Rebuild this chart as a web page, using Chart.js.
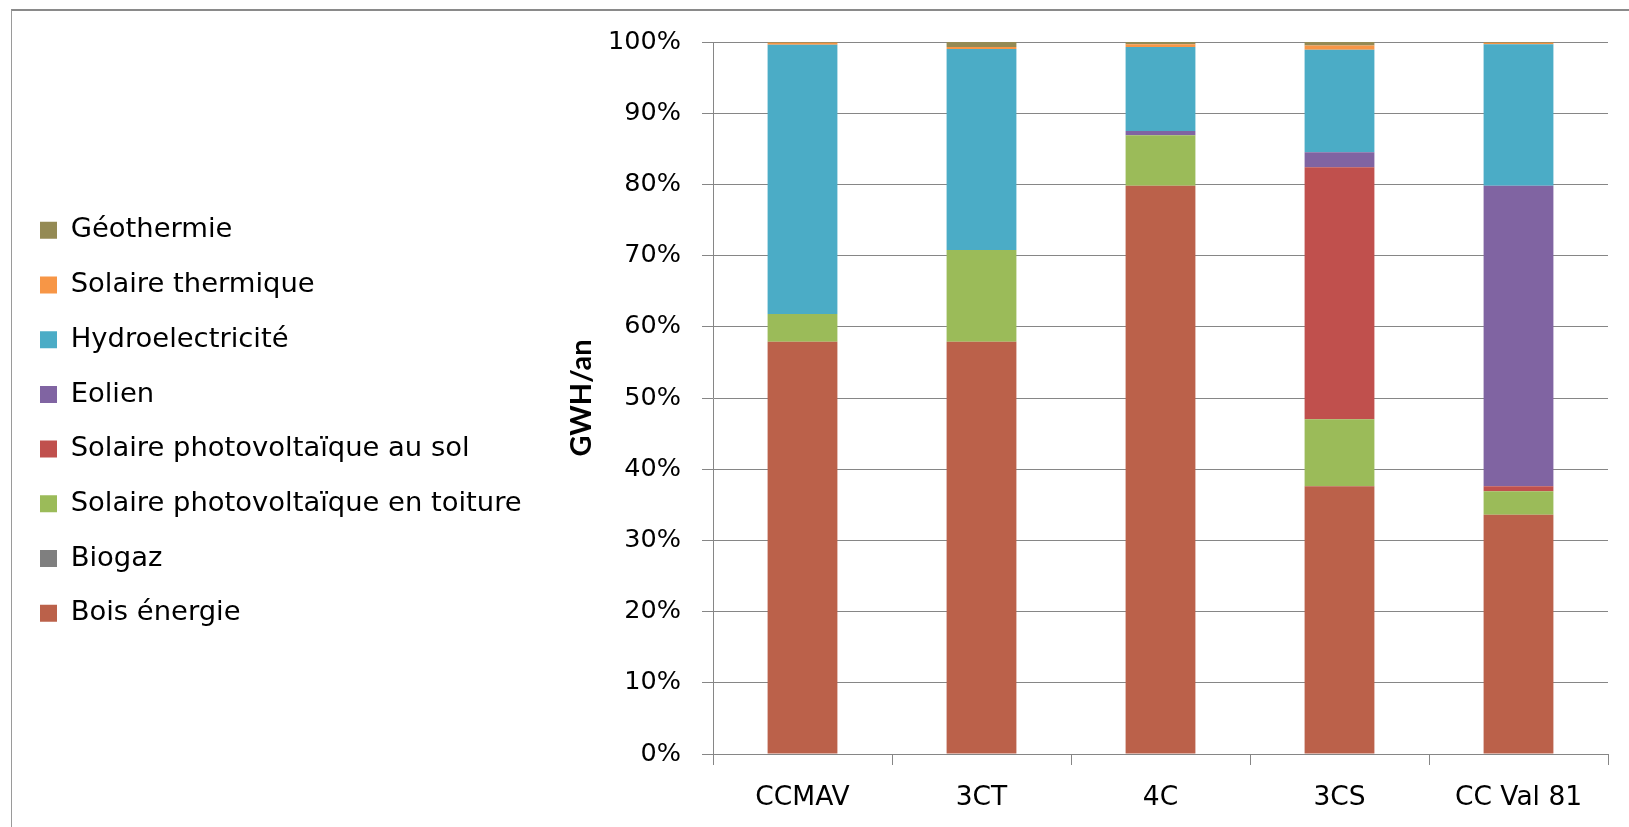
<!DOCTYPE html>
<html>
<head>
<meta charset="utf-8">
<script src="https://cdn.jsdelivr.net/npm/chart.js@4.4.1/dist/chart.umd.min.js"></script>
<style>
  html, body { margin: 0; padding: 0; background: #fff; }
  #wrap { position: relative; width: 1629px; height: 827px; }
  #frame {
    position: absolute; left: 11px; top: 9px; right: -5px; bottom: -5px;
    border-top: 2px solid #8a8a8a; border-left: 1px solid #9a9a9a;
    pointer-events: none;
  }
</style>
</head>
<body>
<div id="wrap">
  <canvas id="chart" width="1629" height="827"></canvas>
  <div id="frame"></div>
</div>
<script>
// Data (share of each source, %)
const categories = ["CCMAV", "3CT", "4C", "3CS", "CC Val 81"];
const boisEnergie = [57.9, 57.9, 79.8, 37.6, 33.6];
const biogaz = [0, 0, 0, 0, 0];
const pvToiture = [3.9, 12.9, 7.1, 9.4, 3.3];
const pvSol = [0, 0, 0, 35.4, 0.7];
const eolien = [0, 0, 0.6, 2.1, 42.2];
const hydro = [37.8, 28.2, 11.8, 14.4, 19.9];
const solaireThermique = [0.3, 0.3, 0.4, 0.6, 0.2];
const geothermie = [0.1, 0.7, 0.3, 0.5, 0.2];
const yTicks = [0, 10, 20, 30, 40, 50, 60, 70, 80, 90, 100];

const gridColor = "#868686";
const textFont = "'DejaVu Sans', Verdana, sans-serif";

// series, bottom to top
const series = [
  { label: "Bois énergie", data: boisEnergie, color: "#BB614A" },
  { label: "Biogaz", data: biogaz, color: "#7F7F7F" },
  { label: "Solaire photovoltaïque en toiture", data: pvToiture, color: "#9BBB59" },
  { label: "Solaire photovoltaïque au sol", data: pvSol, color: "#C0504D" },
  { label: "Eolien", data: eolien, color: "#8064A2" },
  { label: "Hydroelectricité", data: hydro, color: "#4BACC6" },
  { label: "Solaire thermique", data: solaireThermique, color: "#F79646" },
  { label: "Géothermie", data: geothermie, color: "#948A54" },
];

// fixed width for the legend column on the left
const legendWidth = {
  id: "legendWidth",
  beforeInit(chart) {
    const fit = chart.legend.fit;
    chart.legend.fit = function () {
      fit.bind(chart.legend)();
      this.width = 551.3;
    };
  },
};

const ctx = document.getElementById("chart").getContext("2d");
new Chart(ctx, {
  type: "bar",
  data: {
    labels: categories,
    datasets: series.map((s) => ({
      label: s.label,
      data: s.data,
      backgroundColor: s.color,
      borderWidth: 0,
      categoryPercentage: 1,
      barPercentage: 0.39,
    })),
  },
  options: {
    responsive: false,
    animation: false,
    layout: { padding: { left: 12.7, right: 21, top: 42, bottom: 13 } },
    plugins: {
      tooltip: { enabled: false },
      legend: {
        position: "left",
        align: "start",
        reverse: true,
        // empty title used as top spacer so the items sit where the original has them
        title: {
          display: true,
          text: "",
          padding: { top: 135.3, bottom: 0 },
          font: { size: 10 },
        },
        labels: {
          boxWidth: 17,
          boxHeight: 17,
          padding: 27.3,
          color: "#000",
          font: { family: textFont, size: 27.4 },
        },
      },
    },
    scales: {
      x: {
        stacked: true,
        afterFit(axis) {
          axis.height = 60;
        },
        grid: {
          offset: true,
          drawOnChartArea: false,
          color: gridColor,
          tickLength: 11,
        },
        border: { color: gridColor },
        ticks: {
          color: "#000",
          padding: 17,
          maxRotation: 0,
          font: { family: textFont, size: 26.5 },
        },
      },
      y: {
        stacked: true,
        min: 0,
        max: 100,
        afterBuildTicks(axis) {
          axis.ticks = yTicks.map((v) => ({ value: v }));
        },
        afterFit(axis) {
          axis.width = 149;
        },
        grid: { color: gridColor, tickLength: 11 },
        border: { color: gridColor },
        ticks: {
          color: "#000",
          padding: 21,
          font: { family: textFont, size: 25.5 },
          callback: (v) => v + "%",
        },
        title: {
          display: true,
          text: "GWH/an",
          color: "#000",
          padding: { top: 0, bottom: 0 },
          font: { family: "Lato, sans-serif", size: 29, weight: "bold" },
        },
      },
    },
  },
  plugins: [legendWidth],
});
</script>
</body>
</html>
